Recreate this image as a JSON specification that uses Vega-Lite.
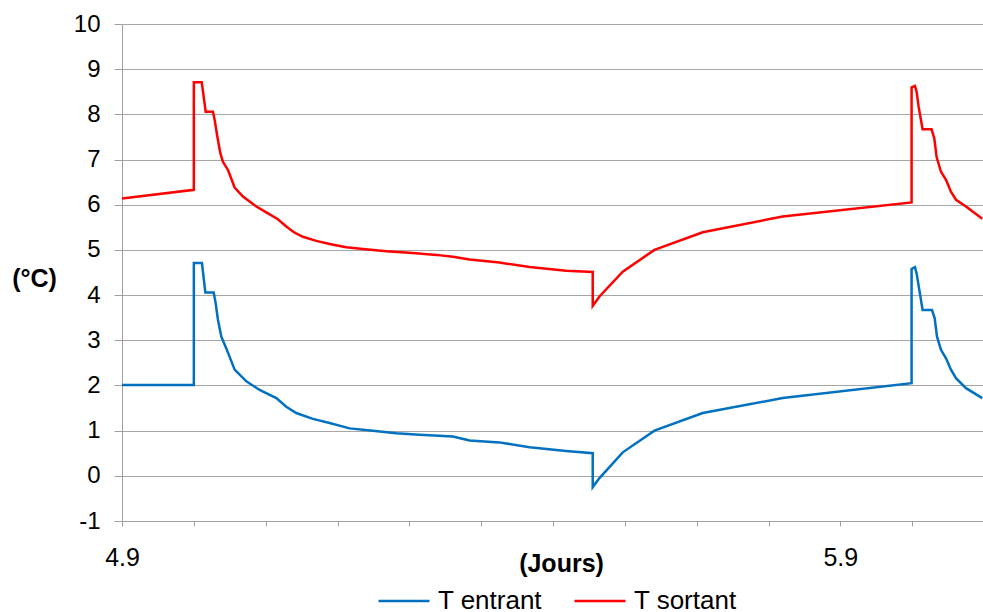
{
  "$schema": "https://vega.github.io/schema/vega-lite/v6.json",
  "width": 862,
  "height": 497,
  "autosize": {"type": "none"},
  "padding": {"left": 122, "top": 24, "right": 0, "bottom": 91},
  "background": "white",
  "config": {
    "view": {"stroke": null},
    "font": "Liberation Sans",
    "axis": {"labelFont": "Liberation Sans", "titleFont": "Liberation Sans", "labelColor": "#000", "titleColor": "#000"}
  },
  "data": {
    "values": [
      {"i": 1, "s": "T sortant", "x": 4.9, "T": 6.14},
      {"i": 2, "s": "T sortant", "x": 5.0, "T": 6.33},
      {"i": 3, "s": "T sortant", "x": 5.0, "T": 8.71},
      {"i": 4, "s": "T sortant", "x": 5.011, "T": 8.71},
      {"i": 5, "s": "T sortant", "x": 5.0165, "T": 8.06},
      {"i": 6, "s": "T sortant", "x": 5.0266, "T": 8.06},
      {"i": 7, "s": "T sortant", "x": 5.0294, "T": 7.84},
      {"i": 8, "s": "T sortant", "x": 5.0327, "T": 7.51},
      {"i": 9, "s": "T sortant", "x": 5.0369, "T": 7.14},
      {"i": 10, "s": "T sortant", "x": 5.0405, "T": 6.95},
      {"i": 11, "s": "T sortant", "x": 5.0475, "T": 6.77},
      {"i": 12, "s": "T sortant", "x": 5.0568, "T": 6.38},
      {"i": 13, "s": "T sortant", "x": 5.0684, "T": 6.18},
      {"i": 14, "s": "T sortant", "x": 5.087, "T": 5.96},
      {"i": 15, "s": "T sortant", "x": 5.1009, "T": 5.83},
      {"i": 16, "s": "T sortant", "x": 5.117, "T": 5.68},
      {"i": 17, "s": "T sortant", "x": 5.1287, "T": 5.52},
      {"i": 18, "s": "T sortant", "x": 5.1403, "T": 5.38},
      {"i": 19, "s": "T sortant", "x": 5.1518, "T": 5.29},
      {"i": 20, "s": "T sortant", "x": 5.1705, "T": 5.2},
      {"i": 21, "s": "T sortant", "x": 5.189, "T": 5.13},
      {"i": 22, "s": "T sortant", "x": 5.2122, "T": 5.06},
      {"i": 23, "s": "T sortant", "x": 5.2353, "T": 5.02},
      {"i": 24, "s": "T sortant", "x": 5.2679, "T": 4.97},
      {"i": 25, "s": "T sortant", "x": 5.3049, "T": 4.93},
      {"i": 26, "s": "T sortant", "x": 5.3375, "T": 4.89},
      {"i": 27, "s": "T sortant", "x": 5.3606, "T": 4.85},
      {"i": 28, "s": "T sortant", "x": 5.3838, "T": 4.79},
      {"i": 29, "s": "T sortant", "x": 5.4255, "T": 4.72},
      {"i": 30, "s": "T sortant", "x": 5.4673, "T": 4.62},
      {"i": 31, "s": "T sortant", "x": 5.5183, "T": 4.54},
      {"i": 32, "s": "T sortant", "x": 5.5553, "T": 4.51},
      {"i": 33, "s": "T sortant", "x": 5.5553, "T": 3.76},
      {"i": 34, "s": "T sortant", "x": 5.5647, "T": 3.97},
      {"i": 35, "s": "T sortant", "x": 5.5971, "T": 4.52},
      {"i": 36, "s": "T sortant", "x": 5.6412, "T": 5.0},
      {"i": 37, "s": "T sortant", "x": 5.7084, "T": 5.39},
      {"i": 38, "s": "T sortant", "x": 5.8197, "T": 5.74},
      {"i": 39, "s": "T sortant", "x": 5.9992, "T": 6.05},
      {"i": 40, "s": "T sortant", "x": 5.9992, "T": 8.6},
      {"i": 41, "s": "T sortant", "x": 6.0039, "T": 8.63},
      {"i": 42, "s": "T sortant", "x": 6.0062, "T": 8.5},
      {"i": 43, "s": "T sortant", "x": 6.009, "T": 8.17},
      {"i": 44, "s": "T sortant", "x": 6.0145, "T": 7.67},
      {"i": 45, "s": "T sortant", "x": 6.027, "T": 7.67},
      {"i": 46, "s": "T sortant", "x": 6.0308, "T": 7.47},
      {"i": 47, "s": "T sortant", "x": 6.034, "T": 7.06},
      {"i": 48, "s": "T sortant", "x": 6.0401, "T": 6.73},
      {"i": 49, "s": "T sortant", "x": 6.0471, "T": 6.55},
      {"i": 50, "s": "T sortant", "x": 6.054, "T": 6.29},
      {"i": 51, "s": "T sortant", "x": 6.061, "T": 6.11},
      {"i": 52, "s": "T sortant", "x": 6.0749, "T": 5.96},
      {"i": 53, "s": "T sortant", "x": 6.0976, "T": 5.69},
      {"i": 1, "s": "T entrant", "x": 4.9, "T": 2.01},
      {"i": 2, "s": "T entrant", "x": 5.0, "T": 2.01},
      {"i": 3, "s": "T entrant", "x": 5.0, "T": 4.71},
      {"i": 4, "s": "T entrant", "x": 5.0113, "T": 4.71},
      {"i": 5, "s": "T entrant", "x": 5.016, "T": 4.06},
      {"i": 6, "s": "T entrant", "x": 5.0276, "T": 4.06},
      {"i": 7, "s": "T entrant", "x": 5.0304, "T": 3.82},
      {"i": 8, "s": "T entrant", "x": 5.0336, "T": 3.45},
      {"i": 9, "s": "T entrant", "x": 5.0383, "T": 3.08},
      {"i": 10, "s": "T entrant", "x": 5.0452, "T": 2.82},
      {"i": 11, "s": "T entrant", "x": 5.0568, "T": 2.35},
      {"i": 12, "s": "T entrant", "x": 5.0731, "T": 2.09},
      {"i": 13, "s": "T entrant", "x": 5.0916, "T": 1.9},
      {"i": 14, "s": "T entrant", "x": 5.1148, "T": 1.72},
      {"i": 15, "s": "T entrant", "x": 5.1287, "T": 1.53},
      {"i": 16, "s": "T entrant", "x": 5.1426, "T": 1.39},
      {"i": 17, "s": "T entrant", "x": 5.1657, "T": 1.26},
      {"i": 18, "s": "T entrant", "x": 5.189, "T": 1.17},
      {"i": 19, "s": "T entrant", "x": 5.2168, "T": 1.05},
      {"i": 20, "s": "T entrant", "x": 5.2492, "T": 1.0},
      {"i": 21, "s": "T entrant", "x": 5.2818, "T": 0.94},
      {"i": 22, "s": "T entrant", "x": 5.3142, "T": 0.91},
      {"i": 23, "s": "T entrant", "x": 5.3606, "T": 0.87},
      {"i": 24, "s": "T entrant", "x": 5.3838, "T": 0.78},
      {"i": 25, "s": "T entrant", "x": 5.4255, "T": 0.74},
      {"i": 26, "s": "T entrant", "x": 5.4673, "T": 0.63},
      {"i": 27, "s": "T entrant", "x": 5.5183, "T": 0.55},
      {"i": 28, "s": "T entrant", "x": 5.5553, "T": 0.5},
      {"i": 29, "s": "T entrant", "x": 5.5553, "T": -0.25},
      {"i": 30, "s": "T entrant", "x": 5.5647, "T": -0.05},
      {"i": 31, "s": "T entrant", "x": 5.5971, "T": 0.52},
      {"i": 32, "s": "T entrant", "x": 5.6412, "T": 1.0},
      {"i": 33, "s": "T entrant", "x": 5.7084, "T": 1.39},
      {"i": 34, "s": "T entrant", "x": 5.8197, "T": 1.72},
      {"i": 35, "s": "T entrant", "x": 5.9992, "T": 2.05},
      {"i": 36, "s": "T entrant", "x": 5.9992, "T": 4.58},
      {"i": 37, "s": "T entrant", "x": 6.0039, "T": 4.62},
      {"i": 38, "s": "T entrant", "x": 6.0062, "T": 4.48},
      {"i": 39, "s": "T entrant", "x": 6.0099, "T": 4.12},
      {"i": 40, "s": "T entrant", "x": 6.0145, "T": 3.67},
      {"i": 41, "s": "T entrant", "x": 6.0276, "T": 3.67},
      {"i": 42, "s": "T entrant", "x": 6.0313, "T": 3.49},
      {"i": 43, "s": "T entrant", "x": 6.0346, "T": 3.08},
      {"i": 44, "s": "T entrant", "x": 6.0401, "T": 2.79},
      {"i": 45, "s": "T entrant", "x": 6.0471, "T": 2.6},
      {"i": 46, "s": "T entrant", "x": 6.054, "T": 2.35},
      {"i": 47, "s": "T entrant", "x": 6.061, "T": 2.16},
      {"i": 48, "s": "T entrant", "x": 6.0749, "T": 1.94},
      {"i": 49, "s": "T entrant", "x": 6.0976, "T": 1.72}
    ]
  },
  "mark": {"type": "line", "strokeWidth": 2.5, "strokeJoin": "miter", "clip": true},
  "encoding": {
    "x": {
      "field": "x", "type": "quantitative",
      "scale": {"domain": [4.9, 6.1], "nice": false, "zero": false},
      "axis": {
        "title": "(Jours)",
        "titleFontSize": 25, "titleFontWeight": "bold",
        "titleX": 439, "titleY": 42, "titleBaseline": "middle", "titleAnchor": null, "titleAlign": "center",
        "values": [4.9, 5.0, 5.1, 5.2, 5.3, 5.4, 5.5, 5.6, 5.7, 5.8, 5.9, 6.0],
        "labelExpr": "abs(datum.value-4.9)<0.001 || abs(datum.value-5.9)<0.001 ? format(datum.value, '.1f') : ''",
        "labelFontSize": 25, "labelPadding": 19, "labelFlush": false,
        "grid": false,
        "domainColor": "#a0a0a0", "domainWidth": 1,
        "tickColor": "#a0a0a0", "tickSize": 5, "tickWidth": 1
      }
    },
    "y": {
      "field": "T", "type": "quantitative",
      "scale": {"domain": [-1, 10], "nice": false, "zero": false},
      "axis": {
        "title": "(°C)",
        "titleFontSize": 25, "titleFontWeight": "bold", "titleAngle": 0,
        "titleX": -88, "titleY": 254, "titleAlign": "center", "titleBaseline": "middle", "titleAnchor": null,
        "values": [-1, 0, 1, 2, 3, 4, 5, 6, 7, 8, 9, 10],
        "labelExpr": "datum.value < 0 ? '-' + abs(datum.value) : '' + datum.value",
        "labelFontSize": 24, "labelPadding": 14,
        "grid": true, "gridColor": "#a6a6a6", "gridWidth": 1.2,
        "domainColor": "#a0a0a0", "domainWidth": 1,
        "tickColor": "#a0a0a0", "tickSize": 8, "tickWidth": 1
      }
    },
    "color": {
      "field": "s", "type": "nominal",
      "scale": {"domain": ["T entrant", "T sortant"], "range": ["#0070C0", "#FF0000"]},
      "legend": {
        "title": null, "orient": "none", "direction": "horizontal",
        "legendX": 255, "legendY": 550, "padding": 0,
        "symbolType": "stroke", "symbolSize": 2601, "symbolStrokeWidth": 2.5,
        "labelFontSize": 26, "labelFont": "Liberation Sans", "labelColor": "#000",
        "labelOffset": 7, "columnPadding": 26
      }
    },
    "order": {"field": "i", "type": "quantitative"}
  }
}
